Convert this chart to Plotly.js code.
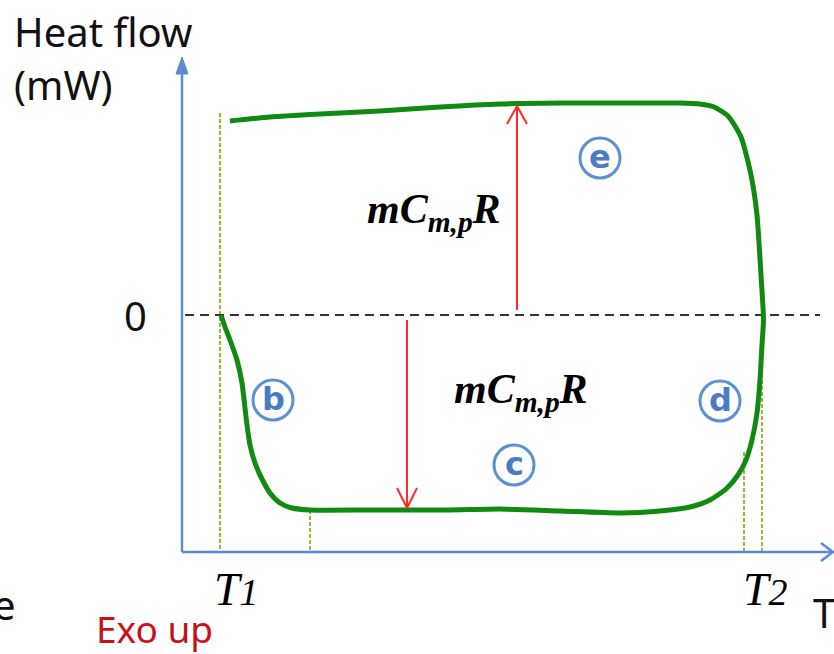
<!DOCTYPE html>
<html>
<head>
<meta charset="utf-8">
<script src="https://cdn.plot.ly/plotly-3.0.1.min.js"></script>
<style>html,body{margin:0;padding:0;background:#fff;}#chart{width:834px;height:654px;}</style>
</head>
<body>
<div id="chart"></div>
<script>
// Coordinates: x = temperature position, y = heat flow (0 = baseline, up = exo)
// Heat-flow loop (DSC curve)
const curveX = [230, 270, 320, 380, 440, 500, 560, 620, 680, 700, 714, 728, 741, 751, 757, 761, 763, 763.5, 762, 760, 757, 752, 746, 738, 726, 710, 690, 660, 620, 560, 500, 450, 417, 370, 310, 292, 280, 270, 262, 255, 250, 247, 245, 242, 237, 230, 225, 221];
const curveY = [194, 198, 201, 204, 208, 211, 212, 212, 212, 211, 208, 199, 178, 140, 100, 40, 8, -5, -30, -65, -98, -125, -145, -160, -174, -185, -192, -196, -198, -196, -194, -195, -195, -195, -195, -193, -188, -178, -164, -148, -130, -110, -93, -68, -45, -25, -12, 0];

// Axis geometry
const yAxisX = [182, 182];
const yAxisY = [-237, 248];
const yArrowX = [176, 182, 188, 176];
const yArrowY = [241, 258, 241, 241];
const xAxisX = [182, 833];
const xAxisY = [-237, -237];
const xArrowX = [821, 833, 821];
const xArrowY = [-228, -237, -246];

// Zero baseline
const zeroX = [185, 820];
const zeroY = [0, 0];

// Guide lines (temperatures)
const guideX = [[220, 220], [310, 310], [744, 744], [762, 762]];
const guideY = [[202, -237], [-195, -237], [-137, -237], [-5, -237]];

// mCp R arrows
const upArrowX = [517, 517];
const upArrowY = [5, 209];
const upHeadX = [507, 517, 527];
const upHeadY = [191, 209, 191];
const downArrowX = [407, 407];
const downArrowY = [-5, -193];
const downHeadX = [397, 407, 417];
const downHeadY = [-173, -193, -173];

// Stage labels
const stageLabels = ['e', 'b', 'c', 'd'];
const stageX = [600, 273, 514, 720];
const stageY = [157, -85, -150, -86];

const tickLabels = ['T', 'T'];
const tickSubs = ['1', '2'];
const tickX = [236, 765];

const blue = '#5a8bd0';
const olive = '#a2b23a';
const green = '#108a10';
const red = '#ff2a2a';

const traces = [];
function line(x, y, color, width, dash) {
  traces.push({x: x, y: y, mode: 'lines', line: {color: color, width: width, dash: dash || 'solid'}, hoverinfo: 'skip', showlegend: false, cliponaxis: false});
}
for (let i = 0; i < guideX.length; i++) line(guideX[i], guideY[i], olive, 2, '4px,2px');
line(yAxisX, yAxisY, blue, 2.5);
traces.push({x: yArrowX, y: yArrowY, mode: 'lines', fill: 'toself', fillcolor: blue, line: {color: blue, width: 1}, hoverinfo: 'skip', showlegend: false});
line(xAxisX, xAxisY, blue, 2.5);
line(xArrowX, xArrowY, blue, 2.5);
line(zeroX, zeroY, '#333333', 2, '9px,6px');
traces.push({x: curveX, y: curveY, mode: 'lines', line: {color: green, width: 5, shape: 'spline', smoothing: 0.6}, hoverinfo: 'skip', showlegend: false, cliponaxis: false});
line(upArrowX, upArrowY, red, 2);
line(upHeadX, upHeadY, red, 2);
line(downArrowX, downArrowY, red, 2);
line(downHeadX, downHeadY, red, 2);

const shapes = [];
const annotations = [];
for (let i = 0; i < stageLabels.length; i++) {
  shapes.push({type: 'circle', xref: 'x', yref: 'y', x0: stageX[i] - 20, x1: stageX[i] + 20, y0: stageY[i] - 20, y1: stageY[i] + 20, line: {color: '#5b8fd6', width: 3}, fillcolor: 'rgba(0,0,0,0)'});
  annotations.push({x: stageX[i], y: stageY[i] + 1, xref: 'x', yref: 'y', text: '<b>' + stageLabels[i] + '</b>', showarrow: false, font: {family: 'DejaVu Sans', size: 32, color: '#4a7cc4'}, xanchor: 'center', yanchor: 'middle'});
}
const formula = '<b><i>mC<sub>m,p</sub>R</i></b>';
const serif = 'Liberation Serif, Times New Roman, serif';
const sans = 'Noto Sans, Open Sans, sans-serif';
for (let i = 0; i < tickLabels.length; i++) {
  annotations.push({x: tickX[i], y: -274, text: '<i>' + tickLabels[i] + '<span style="font-size:38px">' + tickSubs[i] + '</span></i>', showarrow: false, font: {family: serif, size: 46, color: '#000'}, xanchor: 'center', yanchor: 'middle'});
}
annotations.push(
  {x: 434, y: 103, text: formula, showarrow: false, font: {family: serif, size: 42, color: '#000'}, xanchor: 'center', yanchor: 'middle'},
  {x: 521, y: -77, text: formula, showarrow: false, font: {family: serif, size: 42, color: '#000'}, xanchor: 'center', yanchor: 'middle'},
  {x: 12, y: 284, text: 'Heat flow', showarrow: false, font: {family: sans, size: 40, color: '#111'}, xanchor: 'left', yanchor: 'middle'},
  {x: 12, y: 231, text: '(mW)', showarrow: false, font: {family: sans, size: 40, color: '#111'}, xanchor: 'left', yanchor: 'middle'},
  {x: 135, y: 0, text: '0', showarrow: false, font: {family: sans, size: 40, color: '#111'}, xanchor: 'center', yanchor: 'middle'},
  {x: 811, y: -297, text: 'T', showarrow: false, font: {family: sans, size: 40, color: '#111'}, xanchor: 'left', yanchor: 'middle'},
  {x: 18, y: -289, text: 'e', showarrow: false, font: {family: sans, size: 40, color: '#111'}, xanchor: 'right', yanchor: 'middle'},
  {x: 154, y: -313, text: 'Exo up', showarrow: false, font: {family: sans, size: 37, color: '#c8101a'}, xanchor: 'center', yanchor: 'middle'}
);

const layout = {
  width: 834, height: 654,
  margin: {l: 0, r: 0, t: 0, b: 0},
  paper_bgcolor: '#fff', plot_bgcolor: '#fff',
  xaxis: {range: [0, 834], visible: false, fixedrange: true},
  yaxis: {range: [-339, 315], visible: false, fixedrange: true},
  shapes: shapes,
  annotations: annotations,
  showlegend: false
};
Plotly.newPlot('chart', traces, layout, {staticPlot: true});
</script>
</body>
</html>
